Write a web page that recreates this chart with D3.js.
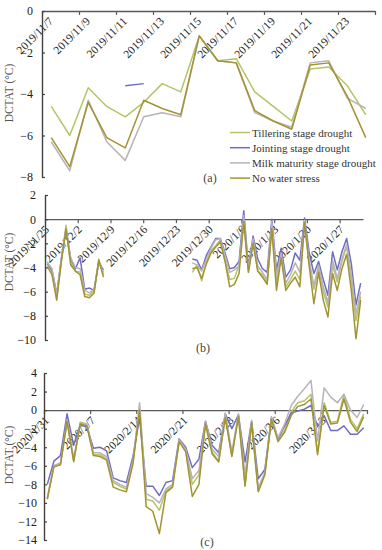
<!DOCTYPE html>
<html>
<head>
<meta charset="utf-8">
<script src="https://cdn.jsdelivr.net/npm/d3@7"></script>
<style>
body { margin: 0; background: #fff; }
text { font-family: "Liberation Serif", "Times New Roman", serif; }
</style>
</head>
<body>
<svg id="chart" width="382" height="550"></svg>
<script>
const seriesNames = ['Tillering stage drought', 'Jointing stage drought', 'Milk maturity stage drought', 'No water stress'];
const colors = ['#b3c569', '#6d6dc4', '#bab2b9', '#a29433'];

// (a) 2019/11/7 - 2019/11/24
const startA = '2019/11/7', endA = '2019/11/24';
const yTicksA = [0, -2, -4, -6, -8];
const tillA  = [-4.6, -6.0, -3.7, -4.6, -5.1, -4.4, -3.5, -3.9, -1.2, -2.4, -2.3, -3.9, -4.6, -5.3, -2.8, -2.7, -3.6, -5.0];
const jointA = [null, null, null, null, -3.6, -3.5, null, null, null, null, null, null, null, null, null, null, null, null];
const milkA  = [-6.3, -7.7, -4.3, -6.3, -7.2, -5.1, -4.9, -5.1, -1.2, -2.4, -2.5, -4.9, -5.3, -5.6, -2.5, -2.4, -4.2, -4.7];
const nwsA   = [-6.1, -7.5, -4.4, -6.1, -6.6, -4.3, -4.7, -5.0, -1.2, -2.4, -2.5, -4.8, -5.3, -5.7, -2.6, -2.5, -4.1, -6.1];

// (b) 2019/11/25 - 2020/1/31
const startB = '2019/11/25', endB = '2020/1/31';
const yTicksB = [2, 0, -2, -4, -6, -8, -10];
const gapB = [null, null, null, null, null, null, null, null, null, null, null, null, null, null, null, null, null, null];
const tillB = [-3.5, -4.4, -6.6, -3.4, -0.5, -3.6, -4.3, -4.4, -6.2, -6.3, -5.9, -3.3, -4.6].concat(gapB,
  [-4.4, -3.8, -5.1, -3.6, -2.6, -2.2, -1.7, -3.4, -5.0, -4.9, -3.8, -0.1, -4.3, -1.8, -4.3, -4.6, -5.3, -0.6, -5.3,
   -3.1, -5.6, -5.0, -4.3, -5.0, -0.3, -3.7, -5.8, -4.0, -6.0, -7.3, -3.8, -5.2, -3.5, -2.2, -5.0, -8.4, -6.4]);
const jointB = [-3.7, -4.2, -6.2, -3.3, -0.9, -3.3, -4.1, -3.2, -5.8, -5.7, -5.9, -3.6, -4.2].concat(gapB,
  [-3.3, -3.4, -4.2, -3.0, -2.3, -1.6, -1.6, -2.8, -4.1, -4.0, -3.5, 0.7, -4.0, -1.4, -3.3, -4.1, -4.4, 0.0, -4.2,
   -2.4, -4.8, -4.2, -2.8, -3.4, 0.1, -2.8, -4.5, -3.5, -5.0, -6.3, -2.7, -4.2, -2.7, -1.6, -3.7, -7.1, -5.3]);
const milkB = [-3.6, -4.1, -6.3, -3.2, -0.8, -3.2, -4.0, -4.1, -5.9, -6.1, -5.8, -3.5, -4.4].concat(gapB,
  [-3.6, -3.8, -4.3, -3.3, -2.4, -1.7, -1.6, -3.0, -4.4, -4.2, -3.9, 0.3, -4.1, -1.6, -3.9, -4.4, -5.0, -0.2, -4.7,
   -2.8, -5.3, -4.6, -3.6, -4.4, -0.1, -3.4, -5.5, -3.8, -5.6, -6.9, -3.4, -4.9, -3.3, -2.1, -4.6, -7.8, -6.0]);
const nwsB = [-3.9, -4.6, -6.7, -3.5, -0.8, -3.8, -4.3, -4.6, -6.4, -6.5, -6.1, -3.4, -4.8].concat(gapB,
  [-4.1, -4.0, -4.9, -3.7, -2.8, -2.3, -1.9, -3.5, -5.6, -5.4, -4.5, -0.2, -4.4, -2.0, -4.3, -4.8, -5.4, -0.8, -5.9,
   -3.2, -5.9, -5.3, -4.8, -5.6, -0.3, -3.9, -7.0, -4.4, -6.7, -8.1, -4.5, -5.9, -4.1, -2.9, -5.9, -9.9, -6.7]);

// (c) 2020/1/31 - 2020/3/19
const startC = '2020/1/31', endC = '2020/3/19';
const yTicksC = [4, 2, 0, -2, -4, -6, -8, -10, -12, -14];
const tillC  = [-9.6, -6.0, -5.8, -1.3, -5.6, -1.3, -1.5, -4.8, -4.8, -5.2, -7.8, -8.2, -8.5, -5.6, 0.3, -9.6, -9.8, -10.8, -8.7, -8.2,
  -3.3, -4.3, -8.0, -7.0, -1.4, -4.5, -5.5, -0.6, -4.9, -0.6, -8.0, -1.3, -8.7, -6.8, -0.8, -3.2, -2.2, -0.2, 0.8, 1.0,
  1.7, -4.6, 0.8, -1.3, -1.2, 1.7, -1.0, -2.0, -0.4];
const jointC = [-8.0, -5.5, -4.9, -0.4, -3.8, -1.6, -1.8, -4.1, -4.0, -4.4, -7.3, -7.6, -7.8, -5.0, -0.8, -8.2, -8.2, -9.2, -7.8, -7.6,
  -3.1, -4.0, -6.2, -5.3, -1.2, -3.8, -4.6, -0.4, -2.0, -0.5, -5.6, -1.2, -7.4, -6.4, -0.9, -3.1, -1.7, -0.3, -0.1, 0.1,
  0.5, -1.8, -0.6, -2.2, -2.2, -1.7, -2.6, -2.6, -1.9];
const milkC  = [-9.4, -6.0, -5.7, -1.0, -5.2, -1.4, -1.6, -4.6, -4.6, -5.0, -7.6, -8.0, -8.3, -5.4, 0.8, -9.0, -9.4, -10.0, -8.5, -8.0,
  -3.2, -4.2, -7.4, -6.5, -1.2, -4.2, -5.0, -0.3, -4.5, -0.4, -7.0, -1.1, -8.4, -6.7, -0.7, -3.0, -1.5, 0.5, 1.5, 2.3,
  3.2, -3.3, 2.4, 1.4, 0.8, 1.7, 0.0, -0.8, 0.6];
const nwsC   = [-9.6, -6.1, -5.9, -1.2, -5.5, -1.5, -1.7, -4.9, -5.0, -5.4, -8.3, -8.6, -8.8, -5.8, 0.0, -10.4, -10.9, -13.3, -8.9, -8.3,
  -3.4, -4.5, -9.3, -8.0, -1.5, -4.7, -5.6, -0.8, -5.0, -0.7, -8.2, -1.4, -8.8, -7.0, -1.0, -3.4, -2.4, -0.6, 0.4, 0.6,
  1.2, -4.8, 0.5, -1.5, -1.4, 1.2, -1.3, -2.3, -0.7];

const parse = d3.timeParse('%Y/%m/%d');
const fmt = d3.timeFormat('%Y/%-m/%-d');
const svg = d3.select('#chart');

function drawPanel(p) {
    const days = d3.timeDay.range(parse(p.start), d3.timeDay.offset(parse(p.end), 1));
    const n = days.length;
    const xi = d3.scaleLinear().domain([0, n]).range([p.x0, p.x1]);
    const bw = xi(1) - xi(0);
    const y = d3.scaleLinear().domain([d3.min(p.yTicks), d3.max(p.yTicks)]).range([p.yBottom, p.yTop]);
    const g = svg.append('g');

    // x axis sits on the zero line, ticks at day boundaries, labels at day centres
    const gx = g.append('g')
        .attr('transform', 'translate(0,' + y(0) + ')')
        .call(d3.axisBottom(xi)
            .tickValues(d3.range(0, n + 1, p.step))
            .tickSize(4)
            .tickSizeOuter(0)
            .tickFormat(i => i < n ? fmt(days[i]) : ''));
    gx.attr('font-size', 11.5).attr('font-family', null);
    gx.select('.domain').attr('stroke', '#595959').attr('stroke-width', 1.3);
    gx.selectAll('.tick line').attr('stroke', '#595959').attr('stroke-width', 1.2);
    gx.selectAll('.tick text')
        .attr('y', 0).attr('dy', null).attr('x', 0)
        .attr('fill', '#222')
        .attr('text-anchor', 'end')
        .attr('transform', 'translate(' + (bw / 2 + 2) + ',11) rotate(-45)');

    const gy = g.append('g')
        .attr('transform', 'translate(' + p.x0 + ',0)')
        .call(d3.axisLeft(y).tickValues(p.yTicks).tickSize(-3).tickPadding(p.pad).tickSizeOuter(0));
    gy.attr('font-size', 12).attr('font-family', null);
    gy.select('.domain').attr('stroke', '#404040').attr('stroke-width', 1.4);
    gy.selectAll('.tick line').attr('stroke', '#404040').attr('stroke-width', 1.2);
    gy.selectAll('.tick text').attr('fill', '#222');

    const line = d3.line()
        .defined(d => d != null)
        .x((d, i) => xi(i + 0.5))
        .y(d => y(d));

    p.series.forEach((s, k) => {
        g.append('path')
            .datum(s)
            .attr('fill', 'none')
            .attr('stroke', colors[k])
            .attr('stroke-width', 1.5)
            .attr('stroke-linejoin', 'round')
            .attr('d', line);
    });

    g.append('text')
        .attr('transform', 'translate(13,' + p.titleY + ') rotate(-90)')
        .attr('text-anchor', 'middle')
        .attr('font-size', 11.5)
        .attr('fill', '#555')
        .text('DCTAT (°C)');

    g.append('text')
        .attr('x', p.labelX).attr('y', p.labelY)
        .attr('text-anchor', 'middle')
        .attr('font-size', 12)
        .attr('fill', '#444')
        .text(p.label);
}

drawPanel({ start: startA, end: endA, step: 2, x0: 42, x1: 375, yTop: 11, yBottom: 177, yTicks: yTicksA, pad: 9,
    series: [tillA, jointA, milkA, nwsA], titleY: 93, label: '(a)', labelX: 210, labelY: 182 });
drawPanel({ start: startB, end: endB, step: 7, x0: 45, x1: 363, yTop: 195, yBottom: 340, yTicks: yTicksB, pad: 9,
    series: [tillB, jointB, milkB, nwsB], titleY: 262, label: '(b)', labelX: 203, labelY: 352 });
drawPanel({ start: startC, end: endC, step: 7, x0: 44, x1: 367, yTop: 373, yBottom: 540, yTicks: yTicksC, pad: 7,
    series: [tillC, jointC, milkC, nwsC], titleY: 455, label: '(c)', labelX: 207, labelY: 546 });

// legend for (a)
const legend = svg.selectAll('.legend')
    .data(seriesNames)
    .enter().append('g')
    .attr('class', 'legend')
    .attr('transform', (d, i) => 'translate(230,' + (132.5 + i * 15.2) + ')');
legend.append('line')
    .attr('x1', 0).attr('x2', 20)
    .attr('stroke', (d, i) => colors[i])
    .attr('stroke-width', 1.5);
legend.append('text')
    .attr('x', 22).attr('y', 4)
    .attr('font-size', 11)
    .attr('fill', '#333')
    .text(d => d);
</script>
</body>
</html>
